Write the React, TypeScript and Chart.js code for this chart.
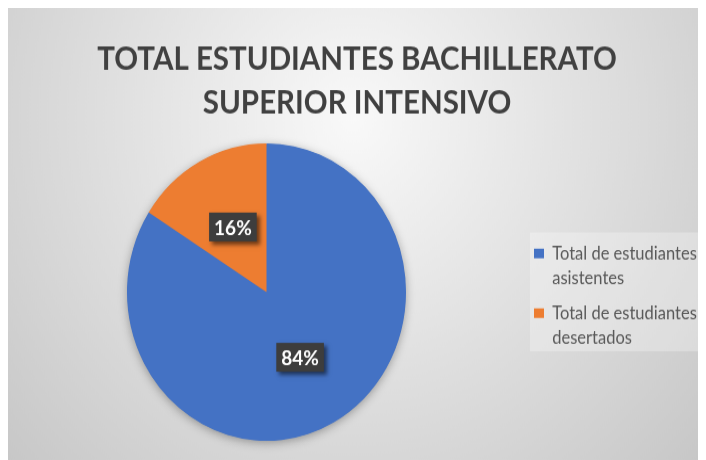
import React, { useEffect, useRef } from 'react';
import { Chart, registerables } from 'chart.js';

Chart.register(...registerables);

// ---- data ----
const categoryLines: string[][] = [
  ['Total de estudiantes', 'asistentes'],
  ['Total de estudiantes', 'desertados'],
];
const values: number[] = [84, 16];
const sliceColors: string[] = ['#4472C4', '#ED7D31'];
const titleLines: string[] = ['TOTAL ESTUDIANTES BACHILLERATO', 'SUPERIOR INTENSIVO'];

// ---- geometry ----
const W = 698;
const H = 424;
const SY = 452 / 424;
const FONT = 'Lato, "Open Sans", sans-serif';

const backgroundPlugin = {
  id: 'bgPlugin',
  beforeDraw(chart: any) {
    const { ctx } = chart;
    ctx.save();
    const g = ctx.createRadialGradient(345, 105, 0, 345, 105, 520);
    g.addColorStop(0, '#f9f9f9');
    g.addColorStop(1, '#c2c2c2');
    ctx.fillStyle = g;
    ctx.fillRect(0, 0, chart.width, chart.height);
    // legend panel
    const lg = chart.legend;
    const hb = lg && lg.legendHitBoxes;
    if (hb && hb.length) {
      const top = hb[0].top - 11.5;
      const last = hb[hb.length - 1];
      const bottom = last.top + 44;
      ctx.fillStyle = 'rgba(255,255,255,0.28)';
      ctx.fillRect(hb[0].left - 4, top, chart.width - (hb[0].left - 4), bottom - top);
    }
    ctx.restore();
  },
};

const pieShadowPlugin = {
  id: 'pieShadow',
  beforeDatasetsDraw(chart: any) {
    const arc = chart.getDatasetMeta(0).data[0];
    if (!arc) return;
    const { ctx } = chart;
    ctx.save();
    ctx.shadowColor = 'rgba(0,0,0,0.35)';
    ctx.shadowBlur = 10;
    ctx.shadowOffsetY = 2;
    ctx.fillStyle = sliceColors[0];
    ctx.beginPath();
    ctx.arc(arc.x, arc.y, arc.outerRadius - 0.5, 0, Math.PI * 2);
    ctx.fill();
    ctx.restore();
  },
};

const dataLabelPlugin = {
  id: 'dataLabels',
  afterDatasetsDraw(chart: any) {
    const { ctx } = chart;
    const meta = chart.getDatasetMeta(0);
    const total = values.reduce((a, b) => a + b, 0);
    meta.data.forEach((arc: any, i: number) => {
      const p = arc.tooltipPosition();
      const txt = Math.round((values[i] / total) * 100) + '%';
      ctx.save();
      ctx.font = `bold 19px ${FONT}`;
      const tw = ctx.measureText(txt).width;
      const bw = tw + 10;
      const bh = 27;
      ctx.shadowColor = 'rgba(0,0,0,0.55)';
      ctx.shadowBlur = 4;
      ctx.shadowOffsetX = 3;
      ctx.shadowOffsetY = 3;
      ctx.fillStyle = '#3d3d3d';
      ctx.fillRect(p.x - bw / 2, p.y - bh / 2, bw, bh);
      ctx.shadowColor = 'transparent';
      ctx.fillStyle = '#ffffff';
      ctx.textAlign = 'center';
      ctx.textBaseline = 'middle';
      ctx.fillText(txt, p.x, p.y + 1);
      ctx.restore();
    });
  },
};

function PieChart() {
  const ref = useRef<HTMLCanvasElement | null>(null);
  useEffect(() => {
    if (!ref.current) return;
    const chart = new Chart(ref.current, {
      type: 'pie',
      data: {
        labels: categoryLines as any,
        datasets: [
          {
            data: values,
            backgroundColor: sliceColors,
            borderWidth: 0,
          },
        ],
      },
      options: {
        responsive: false,
        animation: false,
        layout: { padding: { top: 0, bottom: 18, left: 0, right: 0 } },
        plugins: {
          title: {
            display: true,
            text: titleLines,
            color: '#404040',
            font: { family: FONT, size: 29.5, weight: 'bold', lineHeight: 41 / 29.5 },
            padding: { top: 28, bottom: 17 },
          },
          legend: {
            position: 'right',
            fullSize: false,
            maxWidth: 181,
            title: { display: true, text: ' ', font: { size: 10, lineHeight: 1.4 }, padding: 0 },
            labels: {
              boxWidth: 10,
              boxHeight: 9,
              padding: 9,
              color: '#595959',
              font: { family: FONT, size: 16.5, lineHeight: 23.5 / 16.5 },
            },
          },
          tooltip: { enabled: false },
        },
      } as any,
      plugins: [backgroundPlugin, pieShadowPlugin, dataLabelPlugin],
    });
    return () => chart.destroy();
  }, []);
  return (
    <div style={{ width: W, height: 452, overflow: 'hidden' }}>
      <div style={{ transform: `scaleY(${SY})`, transformOrigin: '0 0', width: W, height: H }}>
        <canvas ref={ref} width={W} height={H} style={{ display: 'block', width: W, height: H }} />
      </div>
    </div>
  );
}

export default function App() {
  return <PieChart />;
}
